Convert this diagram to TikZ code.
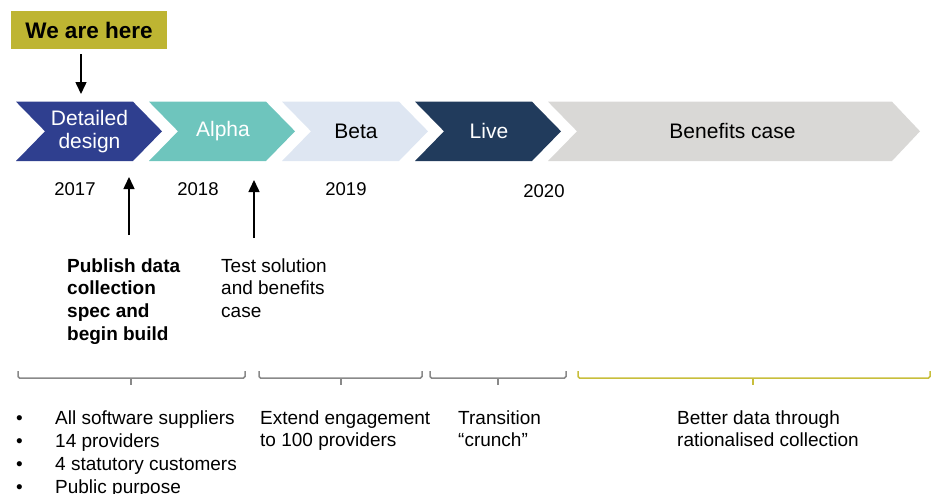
\documentclass[tikz,border=0pt]{standalone}
\usepackage{fontspec}
\setmainfont{Liberation Sans}
\usetikzlibrary{arrows.meta}
\definecolor{cDD}{RGB}{47,63,143}
\definecolor{cAlpha}{RGB}{110,197,189}
\definecolor{cBeta}{RGB}{222,230,242}
\definecolor{cLive}{RGB}{33,59,92}
\definecolor{cBen}{RGB}{217,216,214}
\definecolor{cHere}{RGB}{190,181,50}
\definecolor{cGray}{RGB}{137,137,137}
\definecolor{cOlive}{RGB}{200,190,60}
\tikzset{
  chevlabel/.style={align=center,font=\fontsize{21}{23}\selectfont,inner sep=0pt},
  yearlabel/.style={anchor=base,font=\fontsize{18.5}{22}\selectfont,inner sep=0pt},
  bodytext/.style={anchor=north west,align=left,font=\fontsize{19}{22.6}\selectfont,inner sep=0pt},
  pointer/.style={line width=1.5pt,-{Triangle[width=11pt,length=12pt]}},
  bracket/.style={line width=1.5pt,rounded corners=1.5pt},
}
\newcommand{\chev}[3]{% left, right, color
  \fill[#3] (#1,101.7) -- (#2,101.7) -- ({#2+29},131.3) -- (#2,161) -- (#1,161) -- ({#1+29},131.3) -- cycle;
}
\begin{document}
\begin{tikzpicture}[x=1pt,y=-1pt]
\useasboundingbox (0,0) rectangle (935,493);
% chevrons
\chev{16}{133}{cDD}
\chev{149}{266}{cAlpha}
\chev{282}{399}{cBeta}
\chev{415}{532}{cLive}
\fill[cBen] (548,101.7) -- (892,101.7) -- (920,131.3) -- (892,161) -- (548,161) -- (577,131.3) -- cycle;
\node[chevlabel,text=white] (dd) at (89.5,132) {Detailed\\design};
\node[chevlabel,text=white] (al) at (223,131) {Alpha};
\node[chevlabel,text=black] (be) at (356,131) {Beta};
\node[chevlabel,text=white] (li) at (489,131) {Live};
\node[chevlabel,text=black] (bc) at (732.5,131) {Benefits case};
% we are here
\node[fill=cHere,minimum width=156pt,minimum height=38pt,inner sep=0pt,
      font=\bfseries\fontsize{22.5}{26}\selectfont] (here) at (89,30) {We are here};
\coordinate (hereTip) at (81,94);
\draw[pointer] (here.south -| hereTip) ++(0,5) -- (hereTip);
% years
\node[yearlabel] (y17) at (75,195) {2017};
\node[yearlabel] (y18) at (198,195) {2018};
\node[yearlabel] (y19) at (346,195) {2019};
\node[yearlabel] (y20) at (544,197) {2020};
% up arrows
\coordinate (a1b) at (129,235);
\coordinate (a1t) at (129,177);
\coordinate (a2b) at (254,238);
\coordinate (a2t) at (254,180);
\draw[pointer] (a1b) -- (a1t);
\draw[pointer] (a2b) -- (a2t);
% milestone texts
\node[bodytext,font=\bfseries\fontsize{19}{22.6}\selectfont] (pub) at (67,256.2) {\strut Publish data\\collection\\spec and\\begin build};
\node[bodytext] (test) at (221,256.2) {\strut Test solution\\and benefits\\case};
% brackets
\draw[bracket,cGray] (18,371) -- (18,378) -- (245,378) -- (245,371);
\draw[bracket,cGray] (131,378) -- (131,385);
\draw[bracket,cGray] (259,371) -- (259,378) -- (422,378) -- (422,371);
\draw[bracket,cGray] (341,378) -- (341,385);
\draw[bracket,cGray] (430,371) -- (430,378) -- (566,378) -- (566,371);
\draw[bracket,cGray] (498,378) -- (498,385);
\draw[bracket,cOlive] (578,371) -- (578,378) -- (930,378) -- (930,371);
\draw[bracket,cOlive] (753,378) -- (753,385);
% bottom texts
\node[bodytext,font=\fontsize{19}{23}\selectfont] (bul) at (16,408) {\begin{tabular}{@{}p{39pt}@{}l@{}}
\textbullet & All software suppliers\\
\textbullet & 14 providers\\
\textbullet & 4 statutory customers\\
\textbullet & Public purpose
\end{tabular}};
\node[bodytext] (ext) at (260,408.2) {\strut Extend engagement\\to 100 providers};
\node[bodytext] (tra) at (458,408.2) {\strut Transition\\“crunch”};
\node[bodytext] (bet) at (677,408.2) {\strut Better data through\\rationalised collection};
\end{tikzpicture}
\end{document}
